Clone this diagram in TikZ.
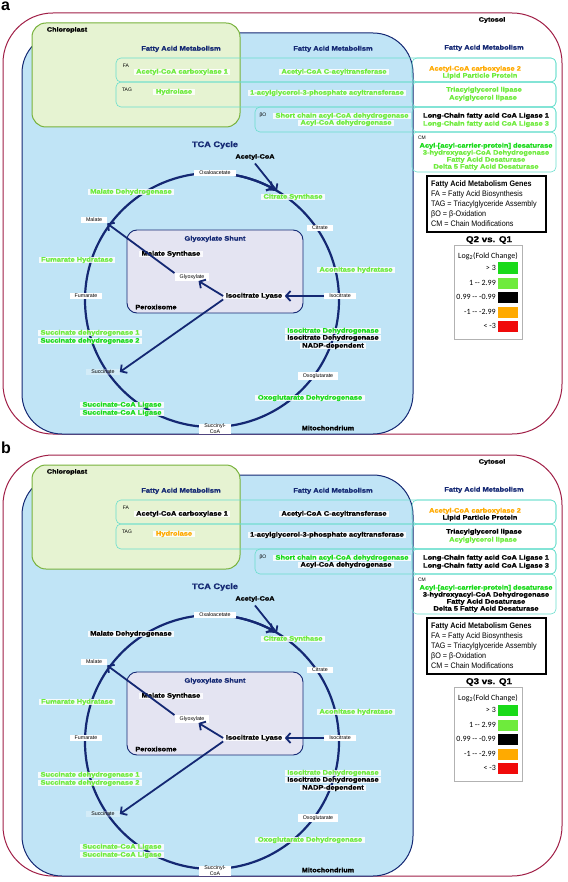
\documentclass[tikz,border=0pt]{standalone}
\usepackage{fontspec}
\setmainfont{Liberation Sans}
\newfontfamily\widefont[FakeStretch=1.15, BoldFeatures={FakeBold=1.3}]{Liberation Sans}
\newfontfamily\narrowfont[FakeStretch=0.9]{Liberation Sans}
\newfontfamily\calfont{Carlito}
\usetikzlibrary{arrows.meta}

\definecolor{cytline}{RGB}{160,30,70}
\definecolor{mitofill}{RGB}{192,228,246}
\definecolor{deepblue}{RGB}{20,40,115}
\definecolor{chlfill}{RGB}{230,243,210}
\definecolor{chlline}{RGB}{120,178,60}
\definecolor{perfill}{RGB}{228,228,242}
\definecolor{rowline}{RGB}{105,222,205}
\definecolor{gr}{RGB}{110,235,60}
\definecolor{hi}{RGB}{25,218,25}
\definecolor{or}{RGB}{255,170,0}
\definecolor{bk}{RGB}{0,0,0}
\definecolor{rd}{RGB}{240,10,10}

\tikzset{
  gene/.style={font=\widefont\bfseries\fontsize{6.5}{7}\selectfont, fill=white, fill opacity=0.85, text opacity=1, inner xsep=2.5pt, inner ysep=0.2pt},
  met/.style={font=\fontsize{5.3}{6}\selectfont, fill=white, inner xsep=5pt, inner ysep=1.3pt},
  head/.style={font=\widefont\bfseries\fontsize{6.5}{7}\selectfont, text=deepblue},
  place/.style={font=\widefont\bfseries\fontsize{6.3}{7}\selectfont},
  tag/.style={font=\fontsize{5}{6}\selectfont},
  key/.style={font=\narrowfont\fontsize{8}{9}\selectfont, anchor=west, inner sep=0pt},
  foldkey/.style={font=\calfont\fontsize{8}{9}\selectfont},
  row/.style={draw=rowline, line width=0.6pt, rounded corners=5pt},
  cyc/.style={draw=deepblue, line width=2.2pt},
  flow/.style={draw=deepblue, line width=1.8pt, -{Straight Barb[length=4.5pt,width=10pt]}}
}

\begin{document}
\begin{tikzpicture}[x=1pt,y=-1pt]
\useasboundingbox (0,0) rectangle (567,882);

\foreach \dy/\k/\pn/\q in {0/1/a/2, 442/2/b/3}{
\begin{scope}[yshift=-\dy pt]
  \node[font=\bfseries\fontsize{16}{16}\selectfont, anchor=base west, inner sep=0pt] (lbl) at (1,11) {\pn};

  % Compartments
  \draw[cytline, line width=1pt, rounded corners=50pt] (3,13) rectangle (562,434);
  \draw[deepblue, fill=mitofill, line width=1pt, rounded corners=40pt] (22,33) rectangle (413,434);
  \draw[chlline, fill=chlfill, line width=1pt, rounded corners=14pt] (32,23) rectangle (240,127);
  \draw[deepblue, fill=perfill, line width=0.9pt, rounded corners=10pt] (127,230) rectangle (303,313);

  % Fatty acid rows
  \draw[row] (116,58) rectangle (556,82);
  \draw[row] (116,82) rectangle (556,107);
  \draw[row] (255,107) rectangle (556,132);
  \draw[row] (412,58) rectangle (556,82);
  \draw[row] (412,82) rectangle (556,107);
  \draw[row] (412,107) rectangle (556,132);
  \draw[row] (412,132) rectangle (556,172);

  \node[place] (cyto) at (492,20) {Cytosol};
  \node[place] (chl) at (67,30) {Chloroplast};
  \node[place] (mito) at (328,428) {Mitochondrium};
  \node[place] (perox) at (156,307) {Peroxisome};
  \node[head] (fam1) at (181,49) {Fatty Acid Metabolism};
  \node[head] (fam2) at (333,49) {Fatty Acid Metabolism};
  \node[head] (fam3) at (484,48) {Fatty Acid Metabolism};
  \node[tag] (fa) at (126,66) {FA};
  \node[tag] (tag) at (127,90) {TAG};
  \node[tag] (bo) at (263,115) {βO};
  \node[tag] (cm) at (422,138) {CM};

  % TCA cycle
  \draw[cyc] (212,300) circle[radius=127pt];
  \node[head, font=\widefont\bfseries\fontsize{8}{9}\selectfont] (tca) at (215,145) {TCA Cycle};
  \node[head] (shunt) at (215,239) {Glyoxylate Shunt};
  \node[place] (acoa) at (255,157) {Acetyl-CoA};
  \coordinate (cs) at (277,191);
  \node[met] (oaa) at (215,173) {Oxaloacetate};
  \node[met] (cit) at (320,228) {Citrate};
  \node[met] (iso) at (340,296) {Isocitrate};
  \node[met] (oxo) at (318,376) {Oxoglutarate};
  \node[met, align=center, inner ysep=0.5pt] (sca) at (215,429) {Succinyl-\\CoA};
  \node[met, fill opacity=0.3, text opacity=1] (suc) at (103,372) {Succinate};
  \node[met] (fum) at (86,296) {Fumarate};
  \node[met] (mal) at (94,220) {Malate};
  \node[met] (gly) at (192,277) {Glyoxylate};
  \node[gene] (icl) at (254,296) {Isocitrate Lyase};

  % Genes: x/y/colour in a/colour in b/name
  \foreach \x/\y/\ca/\cb/\t [count=\i] in {
    182/72/gr/bk/Acetyl-CoA carboxylase 1,
    334/72/gr/bk/Acetyl-CoA C-acyltransferase,
    475/69/or/or/Acetyl-CoA carboxylase 2,
    480/76/gr/bk/Lipid Particle Protein,
    174/92/gr/or/Hydrolase,
    327/93/gr/bk/1-acylglycerol-3-phosphate acyltransferase,
    484/90/gr/bk/Triacylglycerol lipase,
    483/98/gr/gr/Acylglycerol lipase,
    342/116/gr/hi/Short chain acyl-CoA dehydrogenase,
    346/123/gr/bk/Acyl-CoA dehydrogenase,
    486/116/bk/bk/Long-Chain fatty acid CoA Ligase 1,
    486/124/gr/bk/Long-Chain fatty acid CoA Ligase 3,
    486/146/hi/hi/Acyl-[acyl-carrier-protein] desaturase,
    486/153/gr/bk/3-hydroxyacyl-CoA Dehydrogenase,
    486/160/gr/bk/Fatty Acid Desaturase,
    486/167/gr/bk/Delta 5 Fatty Acid Desaturase,
    293/197/gr/gr/Citrate Synthase,
    356/270/gr/gr/Aconitase hydratase,
    333/331/hi/gr/Isocitrate Dehydrogenase,
    333/338/bk/bk/Isocitrate Dehydrogenase,
    333/346/bk/bk/NADP-dependent,
    310/398/hi/gr/Oxoglutarate Dehydrogenase,
    122/405/hi/gr/Succinate-CoA Ligase,
    122/413/hi/gr/Succinate-CoA Ligase,
    90/333/gr/gr/Succinate dehydrogenase 1,
    90/341/hi/gr/Succinate dehydrogenase 2,
    77/260/gr/gr/Fumarate Hydratase,
    131/192/gr/bk/Malate Dehydrogenase,
    171/254/bk/bk/Malate Synthase} {
    \ifnum\k=1 \colorlet{gc}{\ca}\else\colorlet{gc}{\cb}\fi
    \node[gene, text=gc] (g\i) at (\x,\y) {\t};
  }

  % Arrows
  \draw[cyc, -{Straight Barb[length=4.5pt,width=10pt]}] ([shift={(79:127pt)}]212,300) arc[start angle=79, end angle=61, radius=127pt];
  \draw[flow] (acoa.south) -- (cs);
  \draw[flow] (iso) -- (icl);
  \draw[flow] (icl.west) -- (gly);
  \draw[flow] (gly.north west) -- (mal.south east);
  \draw[flow] (icl.south west) -- (suc.east);

  % Key
  \draw[line width=1.1pt] (427,176) rectangle (546,232);
  \node[key] (k0) at (431,184) {\bfseries Fatty Acid Metabolism Genes};
  \node[key] (k1) at (431,194) {FA = Fatty Acid Biosynthesis};
  \node[key] (k2) at (431,204) {TAG = Triacylglyceride Assembly};
  \node[key] (k3) at (431,214) {βO = β-Oxidation};
  \node[key] (k4) at (431,224) {CM = Chain Modifications};

  \node[font=\widefont\bfseries\fontsize{8.5}{9}\selectfont] (cmp) at (489,240) {Q\q\ vs. Q1};
  \draw[gray!60, line width=0.5pt] (454,245) rectangle (522,339);
  \node[foldkey] (lg) at (488,256) {Log\textsubscript{2}(Fold Change)};
  \foreach \v/\c/\t [count=\j] in {268/hi/> 3, 283/gr/1 -{}- 2.99, 297/bk/0.99 -{}- -0.99, 312/or/-1 -{}- -2.99, 326/rd/< -3}{
    \fill[\c] (498,\v-5.5) rectangle (518,\v+5.5);
    \node[foldkey, anchor=east, inner sep=0pt] (s\j) at (496,\v) {\t};
  }
\end{scope}
}
\end{tikzpicture}
\end{document}
